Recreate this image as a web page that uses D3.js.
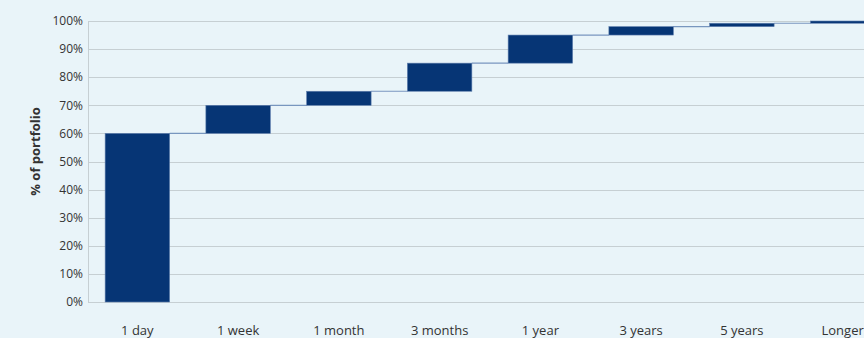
<!DOCTYPE html>
<html>
<head>
<meta charset="utf-8">
<script src="https://cdn.jsdelivr.net/npm/d3@7"></script>
<style>
  body { margin: 0; background: #e9f4f9; overflow: hidden; }
  text { font-family: "Open Sans", "Noto Sans", sans-serif; fill: #333; }
</style>
</head>
<body>
<div id="chart"></div>
<script>
// liquidity horizon buckets (waterfall: each bar adds to the running total)
const categories = ["1 day", "1 week", "1 month", "3 months", "1 year", "3 years", "5 years", "Longer"];
const shares = [60, 10, 5, 10, 10, 3, 1.2, 0.8];
const yTicks = [0, 10, 20, 30, 40, 50, 60, 70, 80, 90, 100];

const width = 864, height = 338;
const margin = {top: 21, left: 88, bottom: 36};
const plotRight = 892; // chart runs past the window edge

const svg = d3.select("#chart").append("svg")
    .attr("width", width)
    .attr("height", height);

svg.append("rect")
    .attr("width", width)
    .attr("height", height)
    .attr("fill", "#e9f4f9");

const x = d3.scaleBand()
    .domain(categories)
    .range([margin.left, plotRight])
    .paddingInner(0.36)
    .paddingOuter(0.17);

const y = d3.scaleLinear()
    .domain([0, 100])
    .range([height - margin.bottom, margin.top]);

// running totals
let total = 0;
const steps = categories.map((c, i) => {
    const start = total;
    total += shares[i];
    return {cat: c, start: start, end: total};
});

// gridlines
svg.append("g")
    .selectAll("line")
    .data(yTicks)
    .join("line")
    .attr("x1", margin.left)
    .attr("x2", plotRight)
    .attr("y1", d => Math.round(y(d)) + 0.5)
    .attr("y2", d => Math.round(y(d)) + 0.5)
    .attr("stroke", "#c6cfd3")
    .attr("stroke-width", 1);

// left axis line
svg.append("line")
    .attr("x1", margin.left + 0.5)
    .attr("x2", margin.left + 0.5)
    .attr("y1", y(100))
    .attr("y2", y(0))
    .attr("stroke", "#c6cfd3");

// y tick labels
svg.append("g")
    .selectAll("text")
    .data(yTicks)
    .join("text")
    .attr("x", margin.left - 5)
    .attr("y", d => y(d))
    .attr("dy", "0.35em")
    .attr("text-anchor", "end")
    .style("font-size", "12px")
    .text(d => d + "%");

// connectors between bars
svg.append("g")
    .selectAll("line")
    .data(steps.slice(0, -1))
    .join("line")
    .attr("x1", d => x(d.cat) + x.bandwidth())
    .attr("x2", (d, i) => x(categories[i + 1]))
    .attr("y1", d => y(d.end))
    .attr("y2", d => y(d.end))
    .attr("stroke", "#7896bf")
    .attr("stroke-width", 1.2);

// bars
svg.append("g")
    .selectAll("rect")
    .data(steps)
    .join("rect")
    .attr("x", d => x(d.cat))
    .attr("width", x.bandwidth())
    .attr("y", d => y(d.end))
    .attr("height", d => y(d.start) - y(d.end))
    .attr("fill", "#063575")
    .attr("stroke", "#5f7fae")
    .attr("stroke-width", 0.6);

// x labels
svg.append("g")
    .selectAll("text")
    .data(categories)
    .join("text")
    .attr("x", d => x(d) + x.bandwidth() / 2)
    .attr("y", 335)
    .attr("text-anchor", "middle")
    .style("font-size", "13px")
    .text(d => d);

// y title
svg.append("text")
    .attr("transform", "translate(40," + (y(50) - 10) + ") rotate(-90)")
    .attr("text-anchor", "middle")
    .style("font-size", "13px")
    .style("font-weight", "bold")
    .text("% of portfolio");
</script>
</body>
</html>
